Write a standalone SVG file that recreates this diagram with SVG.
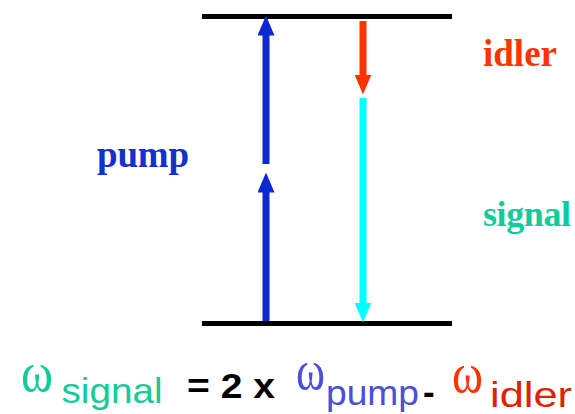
<svg xmlns="http://www.w3.org/2000/svg" width="575" height="414" viewBox="0 0 575 414">
  <style>
    .level { stroke: #000; stroke-width: 5; }
    .shaft { stroke-width: 7; fill: none; }
    .lbl { font-family: "Liberation Serif", "Times New Roman", serif; font-weight: bold; }
    .eq { font-family: "Liberation Sans", Arial, sans-serif; font-size: 35px; }
    .om { font-family: "Liberation Serif", "Times New Roman", serif; font-size: 58px; }
  </style>
  <defs>
    <marker id="hBlue" viewBox="0 0 20 17" refX="0.5" refY="8.5" markerWidth="20" markerHeight="17" markerUnits="userSpaceOnUse" orient="auto">
      <path d="M0,0 L20,8.5 L0,17 z" fill="#0c28d2"/>
    </marker>
    <marker id="hRed" viewBox="0 0 20 17" refX="0.5" refY="8.5" markerWidth="20" markerHeight="17" markerUnits="userSpaceOnUse" orient="auto">
      <path d="M0,0 L20,8.5 L0,17 z" fill="#ff3300"/>
    </marker>
    <marker id="hCyan" viewBox="0 0 20 17" refX="0.5" refY="8.5" markerWidth="20" markerHeight="17" markerUnits="userSpaceOnUse" orient="auto">
      <path d="M0,0 L20,8.5 L0,17 z" fill="#00ffff"/>
    </marker>
  </defs>
  <rect width="575" height="414" fill="#fff"/>

  <g id="upper-level">
    <line class="level" x1="202" y1="16.5" x2="452" y2="16.5"/>
  </g>
  <g id="lower-level">
    <line class="level" x1="202" y1="323.5" x2="452" y2="323.5"/>
  </g>

  <g id="connectors">
    <line class="shaft" stroke="#0c28d2" x1="266" y1="321" x2="266" y2="192" marker-end="url(#hBlue)"/>
    <line class="shaft" stroke="#0c28d2" x1="266" y1="164" x2="266" y2="35" marker-end="url(#hBlue)"/>
    <line class="shaft" stroke="#ff3300" x1="363" y1="21" x2="363" y2="75" marker-end="url(#hRed)"/>
    <line class="shaft" stroke="#00ffff" x1="363" y1="98" x2="363" y2="303" marker-end="url(#hCyan)"/>
  </g>

  <g id="label-pump">
    <text class="lbl" x="97" y="167" font-size="37" fill="#1530d0" textLength="92">pump</text>
  </g>
  <g id="label-idler">
    <text class="lbl" x="483" y="66" font-size="37" fill="#ff3300" textLength="74">idler</text>
  </g>
  <g id="label-signal">
    <text class="lbl" x="483" y="226" font-size="36" fill="#11cc99" textLength="88">signal</text>
  </g>

  <g id="equation">
    <text class="om" x="21" y="391" fill="#11cc99" textLength="32" lengthAdjust="spacingAndGlyphs">ω</text>
    <text class="eq" x="61.5" y="403" fill="#11cc99" textLength="101" lengthAdjust="spacingAndGlyphs">signal</text>
    <text class="eq" x="187" y="398" font-size="37" font-weight="bold" fill="#000" textLength="88" lengthAdjust="spacingAndGlyphs">= 2 x</text>
    <text class="om" x="296" y="389" fill="#4a50d8" textLength="29" lengthAdjust="spacingAndGlyphs">ω</text>
    <text class="eq" x="326" y="405" fill="#4a50d8" textLength="93" lengthAdjust="spacingAndGlyphs">pump</text>
    <text class="eq" x="423" y="404" font-size="37" font-weight="bold" fill="#000">-</text>
    <text class="om" x="452" y="392" fill="#ff3300" textLength="31" lengthAdjust="spacingAndGlyphs">ω</text>
    <text class="eq" x="490" y="407" fill="#dd2200" textLength="82" lengthAdjust="spacingAndGlyphs">idler</text>
  </g>
</svg>
